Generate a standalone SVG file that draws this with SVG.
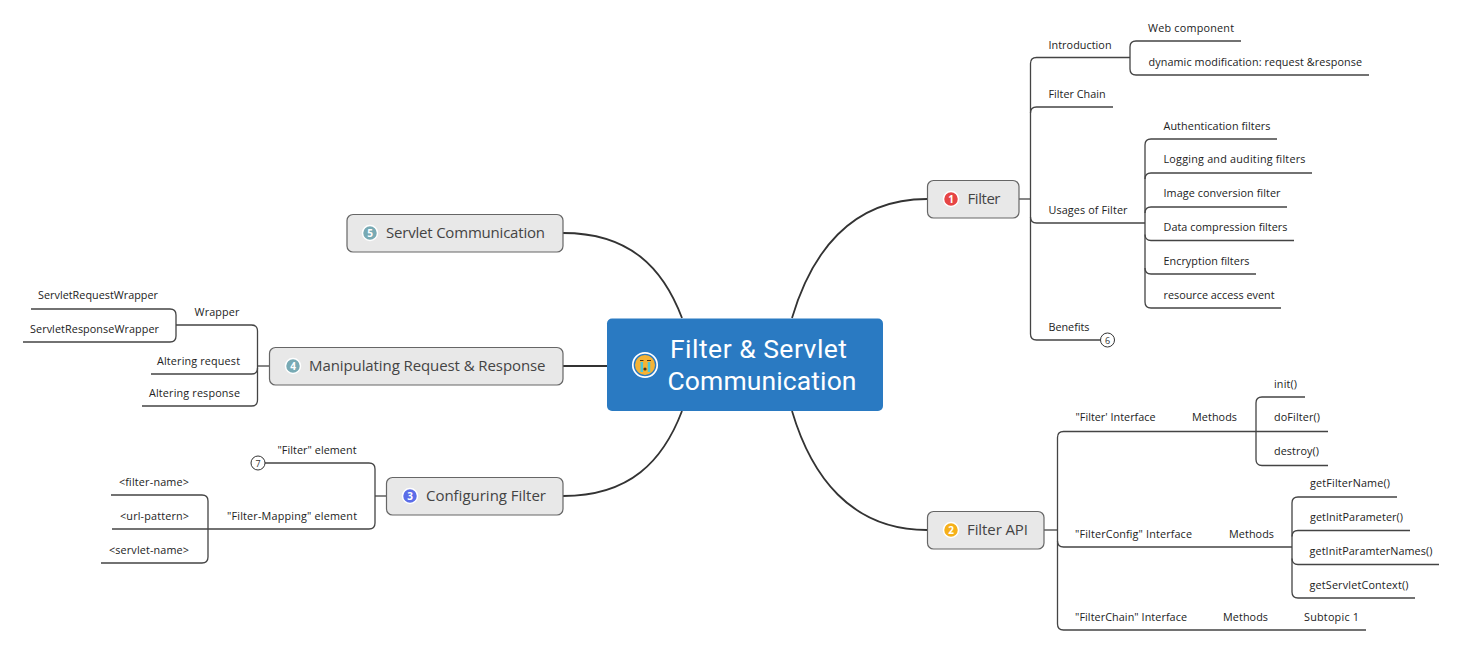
<svg xmlns="http://www.w3.org/2000/svg" width="1476" height="647" viewBox="0 0 1476 647">
<style>
text{font-family:"Open Sans","Noto Sans","Liberation Sans",sans-serif;fill:#222}
.s{font-size:10.8px}
.m{font-size:15px;fill:#444}
.c{font-family:Roboto,"Open Sans",sans-serif;font-size:26.500px;fill:#fff}
.n{font-size:10px;font-weight:700;fill:#fff;text-anchor:middle}
.t{fill:#e8e8e8;stroke:#666;stroke-width:1.2}
.l{fill:none;stroke:#444;stroke-width:1.3}
.h{fill:none;stroke:#333;stroke-width:1.8}
.o{fill:#fff;stroke:#333;stroke-width:1}
.b{stroke:#fff;stroke-width:1.5}
.k{font-size:9px;text-anchor:middle;fill:#333}
</style>
<g id="connectors">
<path class="h" d="M563 233C630 233 663 268 682 318"/>
<path class="h" d="M563 366H607"/>
<path class="h" d="M563 496C630 496 663 461 682 411"/>
<path class="h" d="M792 318C811 254 850 199 927 199"/>
<path class="h" d="M792 411C811 475 850 530 927 530"/>
<path class="l" d="M1019 199H1030.500"/>
<path class="l" d="M1043 57.500H1036.500Q1030.500 57.500 1030.500 63.500V334Q1030.500 340 1036.500 340H1100"/>
<path class="l" d="M1030.500 113Q1030.500 107 1036.500 107H1113"/>
<path class="l" d="M1030.500 217Q1030.500 223 1036.500 223H1145"/>
<path class="l" d="M1043 57.500H1130"/>
<path class="l" d="M1241 41H1136Q1130 41 1130 47V69Q1130 75 1136 75H1369"/>
<path class="l" d="M1277 139H1151Q1145 139 1145 145V302Q1145 308 1151 308H1281"/>
<path class="l" d="M1145 179Q1145 173 1151 173H1312"/>
<path class="l" d="M1145 213Q1145 207 1151 207H1287"/>
<path class="l" d="M1145 234.500Q1145 240.500 1151 240.500H1294"/>
<path class="l" d="M1145 268Q1145 274 1151 274H1256"/>
<path class="l" d="M1044 530H1057.500"/>
<path class="l" d="M1256 431.500H1063.500Q1057.500 431.500 1057.500 437.500V624Q1057.500 630 1063.500 630H1366"/>
<path class="l" d="M1057.500 541Q1057.500 547 1063.500 547H1292"/>
<path class="l" d="M1305 397H1262Q1256 397 1256 403V459.500Q1256 465.500 1262 465.500H1328"/>
<path class="l" d="M1256 431.500H1328"/>
<path class="l" d="M1397 497H1298Q1292 497 1292 503V592Q1292 598 1298 598H1415"/>
<path class="l" d="M1292 536.500Q1292 530.500 1298 530.500H1410"/>
<path class="l" d="M1292 558.500Q1292 564.500 1298 564.500H1439"/>
<path class="l" d="M269 366H257.500"/>
<path class="l" d="M176 325H251.500Q257.500 325 257.500 331V400Q257.500 406 251.500 406H142"/>
<path class="l" d="M257.500 368Q257.500 374 251.500 374H151"/>
<path class="l" d="M31 309H170Q176 309 176 315V336Q176 342 170 342H23"/>
<path class="l" d="M386.500 496H375"/>
<path class="l" d="M265 463H369Q375 463 375 469V523Q375 529 369 529H208"/>
<path class="l" d="M111 495H202Q208 495 208 501V557Q208 563 202 563H101"/>
<path class="l" d="M208 529H112"/>
</g>
<g id="central">
<rect x="607" y="318.500" width="276" height="92.500" rx="5" fill="#2a7ac2"/>
<circle cx="645" cy="365" r="12.200" fill="none" stroke="#fff" stroke-width="1.700"/>
<circle cx="645" cy="365" r="10" fill="#f5b335"/>
<path d="M641.800 362V372M649 362V372" stroke="#4cc6d8" stroke-width="2.500" fill="none"/>
<path d="M640 360.500H643.500M647 360.500H651" stroke="#553311" stroke-width="1" fill="none"/>
<circle cx="645" cy="369" r="1.600" fill="#553311"/>
<text class="c" x="670" y="357.500" textLength="177">Filter &amp; Servlet</text>
<text class="c" x="667.500" y="390" textLength="189">Communication</text>
</g>
<g id="filter">
<rect class="t" x="927.500" y="180.500" width="91.500" height="37.500" rx="6"/>
<circle class="b" cx="951" cy="199" r="7.500" fill="#e64545"/>
<text class="n" x="951" y="202.500">1</text>
<text class="m" x="967.500" y="204" textLength="33">Filter</text>
</g>
<g id="filter-api">
<rect class="t" x="927.500" y="511.500" width="116.500" height="37.500" rx="6"/>
<circle class="b" cx="951" cy="530" r="7.500" fill="#f5b01a"/>
<text class="n" x="951" y="533.500">2</text>
<text class="m" x="967" y="535" textLength="61">Filter API</text>
</g>
<g id="configuring-filter">
<rect class="t" x="386.500" y="477.500" width="176.500" height="37.500" rx="6"/>
<circle class="b" cx="410" cy="496" r="7.500" fill="#5b6de8"/>
<text class="n" x="410" y="499.500">3</text>
<text class="m" x="426" y="501" textLength="120">Configuring Filter</text>
</g>
<g id="manipulating">
<rect class="t" x="269.500" y="347.500" width="293.500" height="37.500" rx="6"/>
<circle class="b" cx="293" cy="366" r="7.500" fill="#78aab4"/>
<text class="n" x="293" y="369.500">4</text>
<text class="m" x="309" y="371" textLength="236.500">Manipulating Request &amp; Response</text>
</g>
<g id="servlet-communication">
<rect class="t" x="347" y="214.500" width="216" height="37.500" rx="6"/>
<circle class="b" cx="370" cy="233" r="7.500" fill="#78aab4"/>
<text class="n" x="370" y="236.500">5</text>
<text class="m" x="386" y="238" textLength="159">Servlet Communication</text>
</g>
<g id="introduction"><text class="s" x="1048.500" y="49" textLength="63">Introduction</text></g>
<g id="web-component"><text class="s" x="1148" y="32" textLength="86">Web component</text></g>
<g id="dynamic"><text class="s" x="1148.500" y="66" textLength="213.500">dynamic modification: request &amp;response</text></g>
<g id="filter-chain"><text class="s" x="1048.500" y="98" textLength="57">Filter Chain</text></g>
<g id="usages"><text class="s" x="1048.500" y="214" textLength="79">Usages of Filter</text></g>
<g id="auth"><text class="s" x="1163.500" y="130" textLength="107">Authentication filters</text></g>
<g id="logging"><text class="s" x="1163.500" y="163" textLength="142">Logging and auditing filters</text></g>
<g id="image"><text class="s" x="1163.500" y="197" textLength="117">Image conversion filter</text></g>
<g id="compression"><text class="s" x="1163.500" y="231" textLength="124">Data compression filters</text></g>
<g id="encryption"><text class="s" x="1163.500" y="265" textLength="86">Encryption filters</text></g>
<g id="resource"><text class="s" x="1163.500" y="299" textLength="111">resource access event</text></g>
<g id="benefits"><text class="s" x="1048.500" y="331" textLength="41">Benefits</text><circle class="o" cx="1107.500" cy="340" r="7"/><text class="k" x="1107.500" y="343.500">6</text></g>
<g id="filter-interface"><text class="s" x="1075.500" y="421" textLength="80">"Filter' Interface</text></g>
<g id="methods-1"><text class="s" x="1192" y="421" textLength="45">Methods</text></g>
<g id="init"><text class="s" x="1274" y="388" textLength="23">init()</text></g>
<g id="dofilter"><text class="s" x="1274" y="421" textLength="46">doFilter()</text></g>
<g id="destroy"><text class="s" x="1274" y="455" textLength="45">destroy()</text></g>
<g id="filterconfig"><text class="s" x="1075" y="538" textLength="117">"FilterConfig" Interface</text></g>
<g id="methods-2"><text class="s" x="1229" y="538" textLength="45">Methods</text></g>
<g id="getfiltername"><text class="s" x="1310" y="487" textLength="80">getFilterName()</text></g>
<g id="getinitparameter"><text class="s" x="1310" y="521" textLength="93">getInitParameter()</text></g>
<g id="getinitparamternames"><text class="s" x="1309.500" y="555" textLength="123">getInitParamterNames()</text></g>
<g id="getservletcontext"><text class="s" x="1309.500" y="589" textLength="99">getServletContext()</text></g>
<g id="filterchain"><text class="s" x="1075" y="621" textLength="112">"FilterChain" Interface</text></g>
<g id="methods-3"><text class="s" x="1223" y="621" textLength="45">Methods</text></g>
<g id="subtopic"><text class="s" x="1304" y="621" textLength="55">Subtopic 1</text></g>
<g id="wrapper"><text class="s" x="194.500" y="316" textLength="45">Wrapper</text></g>
<g id="request-wrapper"><text class="s" x="38" y="299" textLength="120">ServletRequestWrapper</text></g>
<g id="response-wrapper"><text class="s" x="30" y="333" textLength="129">ServletResponseWrapper</text></g>
<g id="altering-request"><text class="s" x="157" y="365" textLength="83">Altering request</text></g>
<g id="altering-response"><text class="s" x="149" y="397" textLength="91">Altering response</text></g>
<g id="filter-element"><text class="s" x="277.500" y="454" textLength="79">"Filter" element</text><circle class="o" cx="258" cy="463" r="7"/><text class="k" x="258" y="466.500">7</text></g>
<g id="filter-mapping"><text class="s" x="227" y="520" textLength="130">"Filter-Mapping" element</text></g>
<g id="filter-name"><text class="s" x="119" y="486" textLength="70">&lt;filter-name&gt;</text></g>
<g id="url-pattern"><text class="s" x="120" y="520" textLength="69">&lt;url-pattern&gt;</text></g>
<g id="servlet-name"><text class="s" x="109" y="554" textLength="80">&lt;servlet-name&gt;</text></g>
</svg>
